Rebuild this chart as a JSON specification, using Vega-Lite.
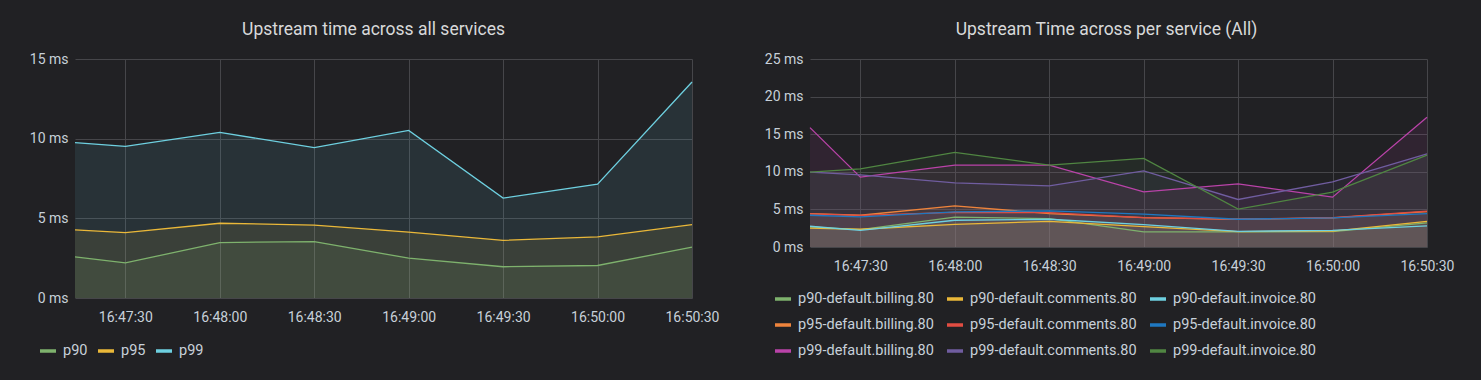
{
  "$schema": "https://vega.github.io/schema/vega-lite/v6.json",
  "background": "#212124",
  "padding": {"left": 29, "top": 20, "right": 27, "bottom": 26},
  "config": {
    "view": {"stroke": null},
    "axis": {"domain": false, "ticks": false, "grid": true, "gridColor": "#46464a", "gridWidth": 1, "labelColor": "#c7d0d9", "labelFont": "Roboto", "labelFontSize": 14, "labelOverlap": false, "labelFlush": false},
    "axisX": {"labelPadding": 12},
    "axisY": {"labelPadding": 7},
    "title": {"color": "#d8d9da", "font": "Roboto", "fontSize": 17.5, "fontWeight": "normal", "anchor": "middle", "offset": 14},
    "legend": {"labelColor": "#c7d0d9", "labelFont": "Roboto", "labelFontSize": 14.5, "labelLimit": 400, "symbolType": "stroke", "symbolSize": 256, "symbolStrokeWidth": 3.5, "symbolOpacity": 1, "labelOffset": 5, "padding": 0, "title": null, "orient": "none"}
  },
  "datasets": {
    "all": [
      {"time": "2020-01-01T16:47:14Z", "series": "p90", "ms": 2.58},
      {"time": "2020-01-01T16:47:30Z", "series": "p90", "ms": 2.2},
      {"time": "2020-01-01T16:48:00Z", "series": "p90", "ms": 3.48},
      {"time": "2020-01-01T16:48:30Z", "series": "p90", "ms": 3.54},
      {"time": "2020-01-01T16:49:00Z", "series": "p90", "ms": 2.5},
      {"time": "2020-01-01T16:49:30Z", "series": "p90", "ms": 1.96},
      {"time": "2020-01-01T16:50:00Z", "series": "p90", "ms": 2.04},
      {"time": "2020-01-01T16:50:30Z", "series": "p90", "ms": 3.19},
      {"time": "2020-01-01T16:47:14Z", "series": "p95", "ms": 4.27},
      {"time": "2020-01-01T16:47:30Z", "series": "p95", "ms": 4.1},
      {"time": "2020-01-01T16:48:00Z", "series": "p95", "ms": 4.69},
      {"time": "2020-01-01T16:48:30Z", "series": "p95", "ms": 4.58},
      {"time": "2020-01-01T16:49:00Z", "series": "p95", "ms": 4.14},
      {"time": "2020-01-01T16:49:30Z", "series": "p95", "ms": 3.62},
      {"time": "2020-01-01T16:50:00Z", "series": "p95", "ms": 3.83},
      {"time": "2020-01-01T16:50:30Z", "series": "p95", "ms": 4.6},
      {"time": "2020-01-01T16:47:14Z", "series": "p99", "ms": 9.75},
      {"time": "2020-01-01T16:47:30Z", "series": "p99", "ms": 9.52},
      {"time": "2020-01-01T16:48:00Z", "series": "p99", "ms": 10.39},
      {"time": "2020-01-01T16:48:30Z", "series": "p99", "ms": 9.44},
      {"time": "2020-01-01T16:49:00Z", "series": "p99", "ms": 10.52},
      {"time": "2020-01-01T16:49:30Z", "series": "p99", "ms": 6.27},
      {"time": "2020-01-01T16:50:00Z", "series": "p99", "ms": 7.14},
      {"time": "2020-01-01T16:50:30Z", "series": "p99", "ms": 13.56}
    ],
    "svc": [
      {"time": "2020-01-01T16:47:14Z", "series": "p90-default.billing.80", "ms": 2.67},
      {"time": "2020-01-01T16:47:30Z", "series": "p90-default.billing.80", "ms": 2.31},
      {"time": "2020-01-01T16:48:00Z", "series": "p90-default.billing.80", "ms": 3.96},
      {"time": "2020-01-01T16:48:30Z", "series": "p90-default.billing.80", "ms": 3.78},
      {"time": "2020-01-01T16:49:00Z", "series": "p90-default.billing.80", "ms": 2.0},
      {"time": "2020-01-01T16:49:30Z", "series": "p90-default.billing.80", "ms": 2.0},
      {"time": "2020-01-01T16:50:00Z", "series": "p90-default.billing.80", "ms": 2.04},
      {"time": "2020-01-01T16:50:30Z", "series": "p90-default.billing.80", "ms": 3.2},
      {"time": "2020-01-01T16:47:14Z", "series": "p90-default.comments.80", "ms": 2.5},
      {"time": "2020-01-01T16:47:30Z", "series": "p90-default.comments.80", "ms": 2.36},
      {"time": "2020-01-01T16:48:00Z", "series": "p90-default.comments.80", "ms": 3.02},
      {"time": "2020-01-01T16:48:30Z", "series": "p90-default.comments.80", "ms": 3.42},
      {"time": "2020-01-01T16:49:00Z", "series": "p90-default.comments.80", "ms": 2.7},
      {"time": "2020-01-01T16:49:30Z", "series": "p90-default.comments.80", "ms": 2.05},
      {"time": "2020-01-01T16:50:00Z", "series": "p90-default.comments.80", "ms": 2.1},
      {"time": "2020-01-01T16:50:30Z", "series": "p90-default.comments.80", "ms": 3.42},
      {"time": "2020-01-01T16:47:14Z", "series": "p90-default.invoice.80", "ms": 2.76},
      {"time": "2020-01-01T16:47:30Z", "series": "p90-default.invoice.80", "ms": 2.22},
      {"time": "2020-01-01T16:48:00Z", "series": "p90-default.invoice.80", "ms": 3.56},
      {"time": "2020-01-01T16:48:30Z", "series": "p90-default.invoice.80", "ms": 3.69},
      {"time": "2020-01-01T16:49:00Z", "series": "p90-default.invoice.80", "ms": 2.98},
      {"time": "2020-01-01T16:49:30Z", "series": "p90-default.invoice.80", "ms": 2.09},
      {"time": "2020-01-01T16:50:00Z", "series": "p90-default.invoice.80", "ms": 2.2},
      {"time": "2020-01-01T16:50:30Z", "series": "p90-default.invoice.80", "ms": 2.8},
      {"time": "2020-01-01T16:47:14Z", "series": "p95-default.billing.80", "ms": 4.45},
      {"time": "2020-01-01T16:47:30Z", "series": "p95-default.billing.80", "ms": 4.22},
      {"time": "2020-01-01T16:48:00Z", "series": "p95-default.billing.80", "ms": 5.47},
      {"time": "2020-01-01T16:48:30Z", "series": "p95-default.billing.80", "ms": 4.45},
      {"time": "2020-01-01T16:49:00Z", "series": "p95-default.billing.80", "ms": 3.9},
      {"time": "2020-01-01T16:49:30Z", "series": "p95-default.billing.80", "ms": 3.69},
      {"time": "2020-01-01T16:50:00Z", "series": "p95-default.billing.80", "ms": 3.87},
      {"time": "2020-01-01T16:50:30Z", "series": "p95-default.billing.80", "ms": 4.7},
      {"time": "2020-01-01T16:47:14Z", "series": "p95-default.comments.80", "ms": 4.4},
      {"time": "2020-01-01T16:47:30Z", "series": "p95-default.comments.80", "ms": 4.2},
      {"time": "2020-01-01T16:48:00Z", "series": "p95-default.comments.80", "ms": 4.6},
      {"time": "2020-01-01T16:48:30Z", "series": "p95-default.comments.80", "ms": 4.58},
      {"time": "2020-01-01T16:49:00Z", "series": "p95-default.comments.80", "ms": 3.91},
      {"time": "2020-01-01T16:49:30Z", "series": "p95-default.comments.80", "ms": 3.7},
      {"time": "2020-01-01T16:50:00Z", "series": "p95-default.comments.80", "ms": 3.9},
      {"time": "2020-01-01T16:50:30Z", "series": "p95-default.comments.80", "ms": 4.76},
      {"time": "2020-01-01T16:47:14Z", "series": "p95-default.invoice.80", "ms": 4.22},
      {"time": "2020-01-01T16:47:30Z", "series": "p95-default.invoice.80", "ms": 4.0},
      {"time": "2020-01-01T16:48:00Z", "series": "p95-default.invoice.80", "ms": 4.67},
      {"time": "2020-01-01T16:48:30Z", "series": "p95-default.invoice.80", "ms": 4.8},
      {"time": "2020-01-01T16:49:00Z", "series": "p95-default.invoice.80", "ms": 4.36},
      {"time": "2020-01-01T16:49:30Z", "series": "p95-default.invoice.80", "ms": 3.69},
      {"time": "2020-01-01T16:50:00Z", "series": "p95-default.invoice.80", "ms": 3.87},
      {"time": "2020-01-01T16:50:30Z", "series": "p95-default.invoice.80", "ms": 4.45},
      {"time": "2020-01-01T16:47:14Z", "series": "p99-default.billing.80", "ms": 15.87},
      {"time": "2020-01-01T16:47:30Z", "series": "p99-default.billing.80", "ms": 9.29},
      {"time": "2020-01-01T16:48:00Z", "series": "p99-default.billing.80", "ms": 10.89},
      {"time": "2020-01-01T16:48:30Z", "series": "p99-default.billing.80", "ms": 10.89},
      {"time": "2020-01-01T16:49:00Z", "series": "p99-default.billing.80", "ms": 7.33},
      {"time": "2020-01-01T16:49:30Z", "series": "p99-default.billing.80", "ms": 8.4},
      {"time": "2020-01-01T16:50:00Z", "series": "p99-default.billing.80", "ms": 6.63},
      {"time": "2020-01-01T16:50:30Z", "series": "p99-default.billing.80", "ms": 17.25},
      {"time": "2020-01-01T16:47:14Z", "series": "p99-default.comments.80", "ms": 9.96},
      {"time": "2020-01-01T16:47:30Z", "series": "p99-default.comments.80", "ms": 9.6},
      {"time": "2020-01-01T16:48:00Z", "series": "p99-default.comments.80", "ms": 8.53},
      {"time": "2020-01-01T16:48:30Z", "series": "p99-default.comments.80", "ms": 8.13},
      {"time": "2020-01-01T16:49:00Z", "series": "p99-default.comments.80", "ms": 10.13},
      {"time": "2020-01-01T16:49:30Z", "series": "p99-default.comments.80", "ms": 6.32},
      {"time": "2020-01-01T16:50:00Z", "series": "p99-default.comments.80", "ms": 8.67},
      {"time": "2020-01-01T16:50:30Z", "series": "p99-default.comments.80", "ms": 12.4},
      {"time": "2020-01-01T16:47:14Z", "series": "p99-default.invoice.80", "ms": 9.96},
      {"time": "2020-01-01T16:47:30Z", "series": "p99-default.invoice.80", "ms": 10.4},
      {"time": "2020-01-01T16:48:00Z", "series": "p99-default.invoice.80", "ms": 12.58},
      {"time": "2020-01-01T16:48:30Z", "series": "p99-default.invoice.80", "ms": 10.89},
      {"time": "2020-01-01T16:49:00Z", "series": "p99-default.invoice.80", "ms": 11.78},
      {"time": "2020-01-01T16:49:30Z", "series": "p99-default.invoice.80", "ms": 5.03},
      {"time": "2020-01-01T16:50:00Z", "series": "p99-default.invoice.80", "ms": 7.29},
      {"time": "2020-01-01T16:50:30Z", "series": "p99-default.invoice.80", "ms": 12.22}
    ]
  },
  "spacing": 118,
  "bounds": "flush",
  "resolve": {"scale": {"color": "independent", "x": "independent", "y": "independent"}, "legend": {"color": "independent"}},
  "hconcat": [
    {
      "width": 617,
      "height": 239,
      "title": {"text": "Upstream time across all services", "dx": -10},
      "data": {"name": "all"},
      "encoding": {
        "x": {"field": "time", "type": "temporal", "title": null,
          "scale": {"type": "utc", "domain": [
            {"year": 2020, "month": 1, "date": 1, "hours": 16, "minutes": 47, "seconds": 14, "utc": true},
            {"year": 2020, "month": 1, "date": 1, "hours": 16, "minutes": 50, "seconds": 30, "utc": true}]},
          "axis": {"labelExpr": "utcFormat(datum.value, '%H:%M:%S')", "values": [
            {"year": 2020, "month": 1, "date": 1, "hours": 16, "minutes": 47, "seconds": 30, "utc": true},
            {"year": 2020, "month": 1, "date": 1, "hours": 16, "minutes": 48, "seconds": 0, "utc": true},
            {"year": 2020, "month": 1, "date": 1, "hours": 16, "minutes": 48, "seconds": 30, "utc": true},
            {"year": 2020, "month": 1, "date": 1, "hours": 16, "minutes": 49, "seconds": 0, "utc": true},
            {"year": 2020, "month": 1, "date": 1, "hours": 16, "minutes": 49, "seconds": 30, "utc": true},
            {"year": 2020, "month": 1, "date": 1, "hours": 16, "minutes": 50, "seconds": 0, "utc": true},
            {"year": 2020, "month": 1, "date": 1, "hours": 16, "minutes": 50, "seconds": 30, "utc": true}]}},
        "y": {"field": "ms", "type": "quantitative", "stack": null, "title": null,
          "scale": {"domain": [0, 15]},
          "axis": {"values": [0, 5, 10, 15], "labelExpr": "datum.value + ' ms'"}},
        "color": {"field": "series", "type": "nominal",
          "scale": {"domain": ["p90", "p95", "p99"], "range": ["#7EB26D", "#EAB839", "#6ED0E0"]},
          "legend": {"direction": "horizontal", "columnPadding": 3, "legendX": -37, "legendY": 282}}
      },
      "layer": [
        {"mark": {"type": "area", "fillOpacity": 0.1, "line": false}},
        {"mark": {"type": "line", "strokeWidth": 1.3}}
      ]
    },
    {
      "width": 617,
      "height": 188,
      "title": {"text": "Upstream Time across per service (All)", "dx": -12},
      "data": {"name": "svc"},
      "encoding": {
        "x": {"field": "time", "type": "temporal", "title": null,
          "scale": {"type": "utc", "domain": [
            {"year": 2020, "month": 1, "date": 1, "hours": 16, "minutes": 47, "seconds": 14, "utc": true},
            {"year": 2020, "month": 1, "date": 1, "hours": 16, "minutes": 50, "seconds": 30, "utc": true}]},
          "axis": {"labelExpr": "utcFormat(datum.value, '%H:%M:%S')", "values": [
            {"year": 2020, "month": 1, "date": 1, "hours": 16, "minutes": 47, "seconds": 30, "utc": true},
            {"year": 2020, "month": 1, "date": 1, "hours": 16, "minutes": 48, "seconds": 0, "utc": true},
            {"year": 2020, "month": 1, "date": 1, "hours": 16, "minutes": 48, "seconds": 30, "utc": true},
            {"year": 2020, "month": 1, "date": 1, "hours": 16, "minutes": 49, "seconds": 0, "utc": true},
            {"year": 2020, "month": 1, "date": 1, "hours": 16, "minutes": 49, "seconds": 30, "utc": true},
            {"year": 2020, "month": 1, "date": 1, "hours": 16, "minutes": 50, "seconds": 0, "utc": true},
            {"year": 2020, "month": 1, "date": 1, "hours": 16, "minutes": 50, "seconds": 30, "utc": true}]}},
        "y": {"field": "ms", "type": "quantitative", "stack": null, "title": null,
          "scale": {"domain": [0, 25]},
          "axis": {"values": [0, 5, 10, 15, 20, 25], "labelExpr": "datum.value + ' ms'"}},
        "color": {"field": "series", "type": "nominal",
          "scale": {"domain": ["p90-default.billing.80", "p95-default.billing.80", "p99-default.billing.80", "p90-default.comments.80", "p95-default.comments.80", "p99-default.comments.80", "p90-default.invoice.80", "p95-default.invoice.80", "p99-default.invoice.80"],
            "range": ["#7EB26D", "#EF843C", "#BA43A9", "#EAB839", "#E24D42", "#705DA0", "#6ED0E0", "#1F78C1", "#508642"]},
          "legend": {"columns": 3, "columnPadding": 6, "rowPadding": 9, "legendX": -37, "legendY": 230}}
      },
      "layer": [
        {"mark": {"type": "area", "fillOpacity": 0.1, "line": false}},
        {"mark": {"type": "line", "strokeWidth": 1.3}}
      ]
    }
  ]
}
